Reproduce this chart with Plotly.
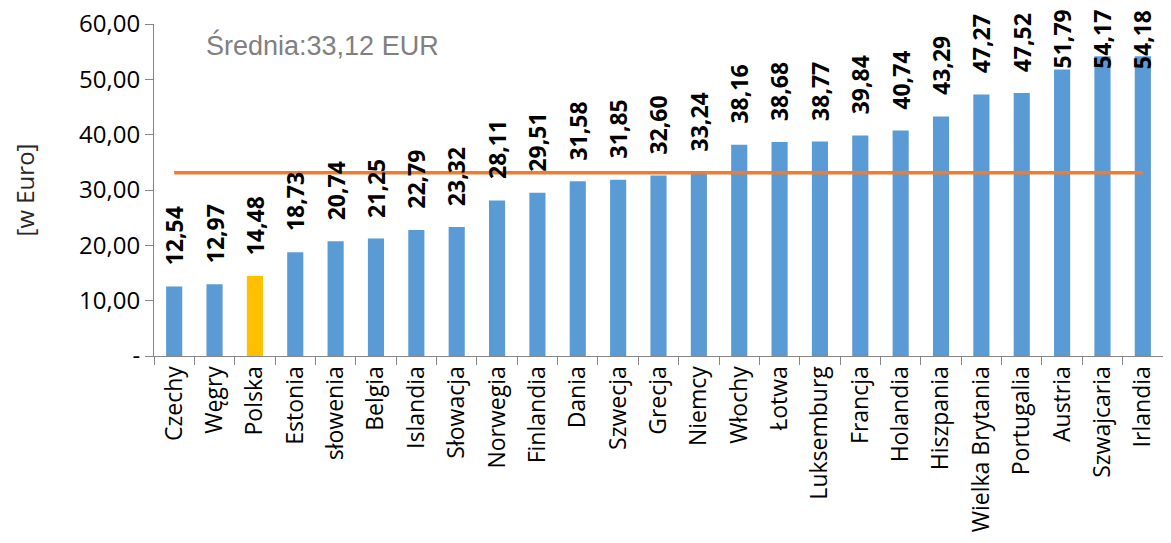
import plotly.graph_objects as go

countries = ["Czechy", "Węgry", "Polska", "Estonia", "słowenia", "Belgia", "Islandia",
             "Słowacja", "Norwegia", "Finlandia", "Dania", "Szwecja", "Grecja", "Niemcy",
             "Włochy", "Łotwa", "Luksemburg", "Francja", "Holandia", "Hiszpania",
             "Wielka Brytania", "Portugalia", "Austria", "Szwajcaria", "Irlandia"]
values = [12.54, 12.97, 14.48, 18.73, 20.74, 21.25, 22.79, 23.32, 28.11, 29.51, 31.58,
          31.85, 32.60, 33.24, 38.16, 38.68, 38.77, 39.84, 40.74, 43.29, 47.27, 47.52,
          51.79, 54.17, 54.18]
average = 33.12
highlight = "Polska"
y_tickvals = [0, 10, 20, 30, 40, 50, 60]
y_ticktext = ["-", "10,00", "20,00", "30,00", "40,00", "50,00", "60,00"]

BLUE = "#5B9BD5"
GOLD = "#FFC000"
ORANGE = "#ED7D31"
FONT = "Open Sans"

def fmt(v):
    return f"{v:.2f}".replace(".", ",")

colors = [GOLD if c == highlight else BLUE for c in countries]

fig = go.Figure()
fig.add_trace(go.Bar(x=countries, y=values, marker=dict(color=colors, line=dict(width=0)),
                     hoverinfo="skip", showlegend=False))
fig.add_trace(go.Scatter(x=countries, y=[average] * len(countries), mode="lines",
                         line=dict(color=ORANGE, width=3.5), hoverinfo="skip",
                         showlegend=False))

label_cap = 48.1  # labels for the tallest bars are held inside the chart area
for c, v in zip(countries, values):
    fig.add_annotation(x=c, y=min(v, label_cap), xref="x", yref="y", text=fmt(v),
                       textangle=-90, showarrow=False, yanchor="bottom", yshift=19,
                       font=dict(family=FONT, size=23, color="#000000", weight="bold"))

fig.add_annotation(x=0.05, y=0.937, xref="paper", yref="paper",
                   text=f"Średnia:{fmt(average)} EUR", showarrow=False,
                   xanchor="left", yanchor="middle",
                   font=dict(family="Liberation Sans", size=27, color="#808080"))

fig.update_layout(
    width=1155, height=527,
    margin=dict(l=146, r=0, t=16, b=179),
    plot_bgcolor="white", paper_bgcolor="white",
    bargap=0.6,
    font=dict(family=FONT, color="#000000"),
    xaxis=dict(type="category", tickangle=-90, tickson="boundaries", ticks="outside",
               ticklen=8, tickcolor="#868686", showline=True, linecolor="#868686",
               linewidth=1, tickfont=dict(family=FONT, size=23, color="#000000"),
               showgrid=False, fixedrange=True, automargin=False,
               ticklabeloverflow="allow"),
    yaxis=dict(range=[0, 60], tickvals=y_tickvals, ticktext=y_ticktext, ticks="outside",
               ticklen=8, tickcolor="#868686", showline=True, linecolor="#868686",
               linewidth=1, showgrid=False, zeroline=False,
               tickfont=dict(family=FONT, size=24, color="#000000"),
               ticklabeloverflow="allow",
               title=dict(text="[w Euro]", font=dict(family=FONT, size=24, color="#262626"),
                          standoff=54),
               fixedrange=True, automargin=False),
)

fig.write_html("out.html")
